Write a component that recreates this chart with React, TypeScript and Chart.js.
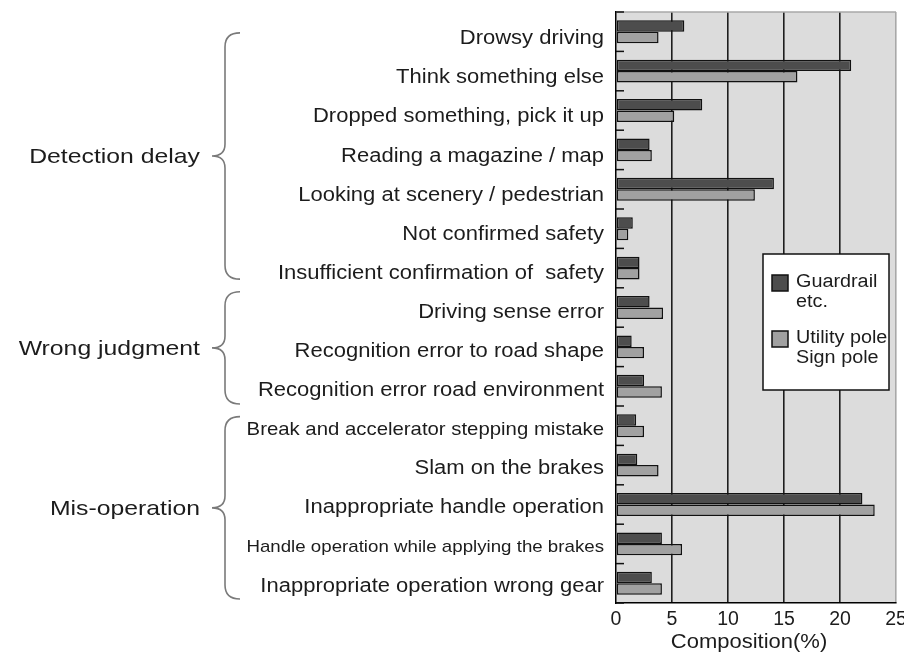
import React, { useEffect, useRef } from 'react';
import { Chart, registerables } from 'chart.js';

Chart.register(...registerables);

// ---------- data ----------
const categories = [
  'Drowsy driving',
  'Think something else',
  'Dropped something, pick it up',
  'Reading a magazine / map',
  'Looking at scenery / pedestrian',
  'Not confirmed safety',
  'Insufficient confirmation of  safety',
  'Driving sense error',
  'Recognition error to road shape',
  'Recognition error road environment',
  'Break and accelerator stepping mistake',
  'Slam on the brakes',
  'Inappropriate handle operation',
  'Handle operation while applying the brakes',
  'Inappropriate operation wrong gear',
];
const guardrail = [6.1, 21.0, 7.7, 3.0, 14.1, 1.5, 2.1, 3.0, 1.4, 2.5, 1.8, 1.9, 22.0, 4.1, 3.2];
const utilityPole = [3.8, 16.2, 5.2, 3.2, 12.4, 1.1, 2.1, 4.2, 2.5, 4.1, 2.5, 3.8, 23.1, 5.9, 4.1];
const seriesNames = [['Guardrail', 'etc.'], ['Utility pole', 'Sign pole']];
const groupNames = ['Detection delay', 'Wrong judgment', 'Mis-operation'];
const groupStart = [0.03, 6.6, 9.77];
const groupEnd = [6.28, 9.45, 14.4];
const xMin = 0;
const xMax = 25;
const xStep = 5;
const xTitle = 'Composition(%)';

// ---------- style ----------
const FONT = '"Liberation Sans", Arial, sans-serif';
const SX = 1.1;
const TEXT = '#1c1c1c';
const DARK = '#4d4d4d';
const LIGHT = '#a1a1a1';
const PLOT_BG = '#dcdcdc';
const labelSizes = [20, 20, 20, 20, 20, 20, 20, 20, 20, 20, 18.5, 20, 20, 17, 20];

function stretchText(ctx: CanvasRenderingContext2D, text: string, x: number, y: number, size: number, align: CanvasTextAlign, sx = SX) {
  ctx.save();
  ctx.font = `${size}px ${FONT}`;
  ctx.fillStyle = TEXT;
  ctx.textBaseline = 'middle';
  ctx.textAlign = align;
  ctx.translate(x, y);
  ctx.scale(sx, 1);
  ctx.fillText(text, 0, 0);
  ctx.restore();
}

const decor = {
  id: 'decor',
  beforeDraw(chart: any) {
    const { ctx, chartArea: a } = chart;
    ctx.save();
    ctx.fillStyle = PLOT_BG;
    ctx.fillRect(a.left, a.top, a.right - a.left, a.bottom - a.top);
    ctx.restore();
  },
  afterDraw(chart: any) {
    const { ctx, chartArea: a } = chart;
    const y = chart.scales.y;
    const x = chart.scales.x;
    ctx.save();
    // top border
    ctx.strokeStyle = '#a8a8a8';
    ctx.lineWidth = 1.5;
    ctx.beginPath();
    ctx.moveTo(a.left, a.top);
    ctx.lineTo(a.right, a.top);
    ctx.stroke();
    // inward category tick marks at boundaries
    ctx.strokeStyle = '#111';
    ctx.lineWidth = 1.5;
    for (let i = 0; i <= categories.length; i++) {
      const py = y.getPixelForValue(i - 0.5);
      ctx.beginPath();
      ctx.moveTo(a.left, py);
      ctx.lineTo(a.left + 8, py);
      ctx.stroke();
    }
    ctx.restore();

    // category labels
    categories.forEach((c, i) => {
      stretchText(ctx, c, a.left - 12, y.getPixelForValue(i) + 7 - 0.3 * i, labelSizes[i], 'right');
    });

    // braces + group labels
    groupNames.forEach((g, i) => {
      const top = y.getPixelForValue(groupStart[i]);
      const bot = y.getPixelForValue(groupEnd[i]);
      const mid = (top + bot) / 2;
      const lx = a.left - 391;
      const tipX = lx - 13;
      const endX = lx + 15;
      ctx.save();
      ctx.strokeStyle = '#7a7a7a';
      ctx.lineWidth = 1.6;
      ctx.beginPath();
      ctx.moveTo(endX, top);
      ctx.quadraticCurveTo(lx, top, lx, top + 14);
      ctx.lineTo(lx, mid - 12);
      ctx.quadraticCurveTo(lx, mid, tipX, mid);
      ctx.quadraticCurveTo(lx, mid, lx, mid + 12);
      ctx.lineTo(lx, bot - 14);
      ctx.quadraticCurveTo(lx, bot, endX, bot);
      ctx.stroke();
      ctx.restore();
      stretchText(ctx, g, tipX - 12, mid + 1, 21, 'right', 1.18);
    });

    // legend
    const bx = a.right - 133;
    const by = a.top + 242;
    const bw = 126;
    const bh = 136;
    ctx.save();
    ctx.fillStyle = '#ffffff';
    ctx.fillRect(bx, by, bw, bh);
    ctx.beginPath();
    ctx.rect(bx, by, bw, bh);
    ctx.clip();
    const colors = [DARK, LIGHT];
    const entryY = [by + 21, by + 77];
    seriesNames.forEach((lines, k) => {
      ctx.fillStyle = colors[k];
      ctx.fillRect(bx + 9, entryY[k], 16, 16);
      ctx.strokeStyle = '#111';
      ctx.lineWidth = 1.5;
      ctx.strokeRect(bx + 9, entryY[k], 16, 16);
      lines.forEach((t, j) => {
        stretchText(ctx, t, bx + 33, entryY[k] + 7 + j * 20, 18, 'left');
      });
    });
    ctx.restore();
    ctx.save();
    ctx.strokeStyle = '#111';
    ctx.lineWidth = 1.5;
    ctx.strokeRect(bx, by, bw, bh);
    ctx.restore();

    // x title
    stretchText(ctx, xTitle, (x.left + x.right) / 2 - 7, a.bottom + 39, 20, 'center');
  },
};

export default function App() {
  const ref = useRef<HTMLCanvasElement>(null);
  useEffect(() => {
    document.body.style.margin = '0';
    const chart = new Chart(ref.current as HTMLCanvasElement, {
      type: 'bar',
      data: {
        labels: categories,
        datasets: [
          {
            label: seriesNames[0].join(' '),
            data: guardrail,
            backgroundColor: DARK,
            borderColor: '#111',
            borderWidth: 1.5,
            borderSkipped: false,
            categoryPercentage: 0.58,
            barPercentage: 1.0,
          },
          {
            label: seriesNames[1].join(' '),
            data: utilityPole,
            backgroundColor: LIGHT,
            borderColor: '#111',
            borderWidth: 1.5,
            borderSkipped: false,
            categoryPercentage: 0.58,
            barPercentage: 1.0,
          },
        ],
      },
      options: {
        indexAxis: 'y',
        responsive: false,
        animation: false,
        layout: { padding: { left: 0, right: 8, top: 12, bottom: 0 } },
        plugins: {
          legend: { display: false },
          tooltip: { enabled: false },
          title: { display: false },
        },
        scales: {
          x: {
            type: 'linear',
            min: xMin,
            max: xMax,
            ticks: {
              stepSize: xStep,
              color: TEXT,
              padding: 5,
              font: { family: FONT, size: 19.5 },
            },
            grid: {
              drawTicks: false,
              lineWidth: 1.6,
              color: (ctx: any) => {
                const v = ctx.tick ? ctx.tick.value : 0;
                if (v === xMin) return 'rgba(0,0,0,0)';
                if (v === xMax) return '#a8a8a8';
                return '#1e1e1e';
              },
            },
            border: { display: true, color: '#000', width: 1.5 },
            afterFit: (s: any) => {
              s.height = 49;
              s.paddingLeft = 0;
              s.paddingRight = 0;
            },
          },
          y: {
            type: 'category',
            ticks: { display: false },
            grid: { display: false, drawTicks: false },
            border: { display: true, color: '#000', width: 1.5 },
            afterFit: (s: any) => {
              s.width = 616;
            },
          },
        },
      },
      plugins: [decor],
    } as any);
    return () => chart.destroy();
  }, []);
  return (
    <div style={{ width: 904, height: 652 }}>
      <canvas ref={ref} width={904} height={652} style={{ display: 'block', width: '904px', height: '652px' }} />
    </div>
  );
}
